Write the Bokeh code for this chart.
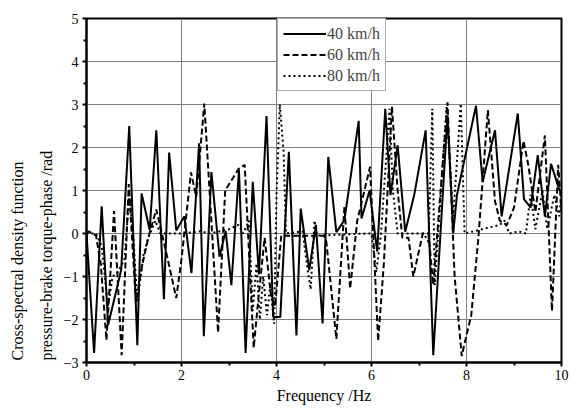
from bokeh.plotting import figure
from bokeh.models import Range1d, FixedTicker, Legend, LegendItem, Title
from bokeh.embed import file_html
from bokeh.resources import INLINE

# 40 km/h (solid)
x40 = [0.0, 0.16, 0.32, 0.455, 0.73, 0.9, 1.07, 1.16, 1.33, 1.47, 1.63, 1.74, 1.89, 2.06, 2.21,
       2.37, 2.47, 2.63, 2.8, 2.93, 3.05, 3.21, 3.35, 3.5, 3.63, 3.79, 3.93, 4.08, 4.26, 4.42,
       4.51, 4.69, 4.83, 4.97, 5.09, 5.26, 5.43, 5.73, 5.79, 5.96, 6.12, 6.29, 6.4, 6.55, 6.71,
       6.9, 7.14, 7.3, 7.6, 7.72, 7.8, 8.2, 8.34, 8.6, 8.74, 9.08, 9.21, 9.35, 9.5, 9.65, 9.78, 9.96]
y40 = [0.0, -2.78, 0.63, -2.13, -0.85, 2.5, -2.6, 0.93, 0.08, 2.4, -1.53, 1.88, 0.07, 0.4, -0.92,
       2.1, -2.39, 1.43, -0.54, 0.06, -1.2, 1.48, -2.78, 1.2, -0.95, 2.73, -1.94, -1.94, 1.9, -2.37,
       0.58, -0.85, 0.2, -2.09, 1.78, 0.03, 0.31, 2.62, 0.35, 1.0, -0.42, 2.9, 0.89, 2.05, 0.04,
       0.9, 2.4, -2.83, 2.75, 0.0, 0.9, 2.97, 1.2, 2.4, 0.4, 2.79, 0.8, 0.6, 1.82, 0.4, 1.62, 1.0]

# 60 km/h (dashed)
x60 = [0.0, 0.05, 0.2, 0.3, 0.42, 0.58, 0.74, 0.89, 1.04, 1.17, 1.3, 1.47, 1.7, 1.89, 2.0,
       2.2, 2.31, 2.48, 2.77, 2.92, 3.2, 3.33, 3.52, 3.62, 3.75, 3.88, 3.97, 4.1, 5.0, 5.05,
       5.26, 5.43, 5.55, 5.7, 5.97, 6.14, 6.26, 6.43, 6.55, 6.65, 6.78, 6.88, 7.08, 7.2, 7.3,
       7.6, 7.75, 7.9, 7.95, 8.1, 8.25, 8.45, 8.6, 8.7, 8.85, 9.0, 9.2, 9.3, 9.45, 9.65, 9.8,
       9.93, 10.0]
y60 = [0.0, 0.05, -0.05, -0.7, -2.48, 0.52, -2.83, 1.15, -1.6, -0.75, -0.1, 0.56, -0.55, -1.5, -0.6,
       1.42, 0.85, 3.02, -2.3, 1.0, 1.5, 1.6, -2.66, -1.5, -0.1, -1.4, -1.7, -0.05, -0.05, -0.2,
       -2.45, 0.62, -1.28, 0.3, 1.55, -2.5, -0.7, 2.95, 1.0, -0.1, -0.1, -1.0, 0.0, 0.0, -1.2,
       3.05, -1.0, -2.85, -2.6, -1.9, -0.1, 2.87, 0.75, 0.3, 0.2, 0.6, 2.15, 1.6, 0.5, 2.28, -1.8,
       1.6, 0.5]

# 80 km/h (dotted)
x80 = [0.0, 0.2, 0.32, 0.45, 0.55, 0.66, 0.8, 0.9, 0.98, 1.07, 1.2, 1.3, 1.45, 1.55, 2.0,
       2.4, 2.6, 3.0, 3.2, 3.3, 3.42, 3.5, 3.58, 3.65, 3.72, 3.8, 3.87, 3.95, 4.0, 4.07, 4.15,
       4.2, 4.55, 4.65, 4.72, 4.8, 4.85, 5.9, 6.0, 6.1, 6.2, 6.38, 6.45, 6.55, 6.65, 7.1, 7.2,
       7.28, 7.33, 7.58, 7.72, 7.88, 7.96, 8.7, 8.8, 8.9, 9.1, 9.25, 9.35, 9.45, 9.6, 9.7, 9.85,
       9.95, 10.0]
y80 = [0.0, 0.0, -0.3, -1.7, -1.0, -0.9, -0.6, 0.9, 0.0, -1.6, -0.5, -0.1, 0.3, 0.0, 0.0,
       0.05, 0.0, 0.1, 0.2, 0.0, 0.3, -1.8, -0.7, -2.0, -1.0, -1.9, -1.2, -2.1, 0.9, 3.0, 1.9,
       0.0, 0.05, -0.8, -1.3, 0.3, -0.05, 0.0, 0.0, -0.9, 0.0, 2.9, 1.0, 0.0, 0.0, 0.0, -0.2,
       2.9, -1.2, 2.94, 0.39, 3.02, 0.0, 0.2, 0.3, 0.0, 0.05, 0.0, 0.9, 0.1, 1.0, 0.1, 0.9,
       0.4, 0.9]

labels = ["40 km/h", "60 km/h", "80 km/h"]
x_ticks = [0, 2, 4, 6, 8, 10]
y_ticks = [-3, -2, -1, 0, 1, 2, 3, 4, 5]
y_title = ["Cross-spectral density function", "pressure-brake torque-phase /rad"]
x_title = "Frequency /Hz"

FONT = "Liberation Serif"

p = figure(width=581, height=410, output_backend="svg", toolbar_location=None,
           x_range=Range1d(0, 10), y_range=Range1d(-3, 5),
           min_border_left=86, min_border_right=20, min_border_top=18, min_border_bottom=48)
p.background_fill_color = "white"
p.border_fill_color = "white"
p.outline_line_color = "black"
p.outline_line_width = 2

r1 = p.line(x40, y40, line_color="black", line_width=2)
r2 = p.line(x60, y60, line_color="black", line_width=2, line_dash="6 3")
r3 = p.line(x80, y80, line_color="black", line_width=2, line_dash="2 3")

p.xaxis.ticker = FixedTicker(ticks=x_ticks, minor_ticks=[1, 3, 5, 7, 9])
p.yaxis.ticker = FixedTicker(ticks=y_ticks,
                             minor_ticks=[-2.5, -1.5, -0.5, 0.5, 1.5, 2.5, 3.5, 4.5])
for ax in (p.xaxis[0], p.yaxis[0]):
    ax.axis_line_width = 2
    ax.axis_line_color = "black"
    ax.major_tick_line_width = 2
    ax.major_tick_in = 0
    ax.major_tick_out = 4
    ax.minor_tick_line_width = 2
    ax.minor_tick_in = 0
    ax.minor_tick_out = 3
    ax.major_label_text_font = FONT
    ax.major_label_text_font_size = "14px"
    ax.major_label_text_color = "black"
    ax.axis_label_text_font = FONT
    ax.axis_label_text_font_size = "16px"
    ax.axis_label_text_font_style = "normal"
    ax.axis_label_text_color = "black"

p.xaxis.axis_label = x_title
p.xaxis.major_label_standoff = 3
p.xaxis.axis_label_standoff = 4
p.yaxis.major_label_standoff = 4

# two-line y title as left-side titles (inner line first)
for txt, so in ((y_title[1], 12), (y_title[0], 8)):
    t = Title(text=txt, align="left", offset=2, standoff=so,
              text_font=FONT, text_font_size="16px", text_font_style="normal",
              text_color="black")
    p.add_layout(t, "left")

p.xgrid.grid_line_color = "#808080"
p.ygrid.grid_line_color = "#808080"
p.xgrid.grid_line_width = 1
p.ygrid.grid_line_width = 1

legend = Legend(items=[LegendItem(label=labels[0], renderers=[r1]),
                       LegendItem(label=labels[1], renderers=[r2]),
                       LegendItem(label=labels[2], renderers=[r3])],
                location=(191, 271))
legend.label_text_font = FONT
legend.label_text_font_size = "16px"
legend.glyph_width = 43
legend.glyph_height = 19
legend.label_height = 19
legend.spacing = 2
legend.padding = 5
legend.margin = 0
legend.label_standoff = 1
legend.border_line_color = "#555555"
legend.border_line_width = 1
legend.background_fill_alpha = 1
p.add_layout(legend, "center")

open("out.html", "w").write(file_html(p, INLINE))
